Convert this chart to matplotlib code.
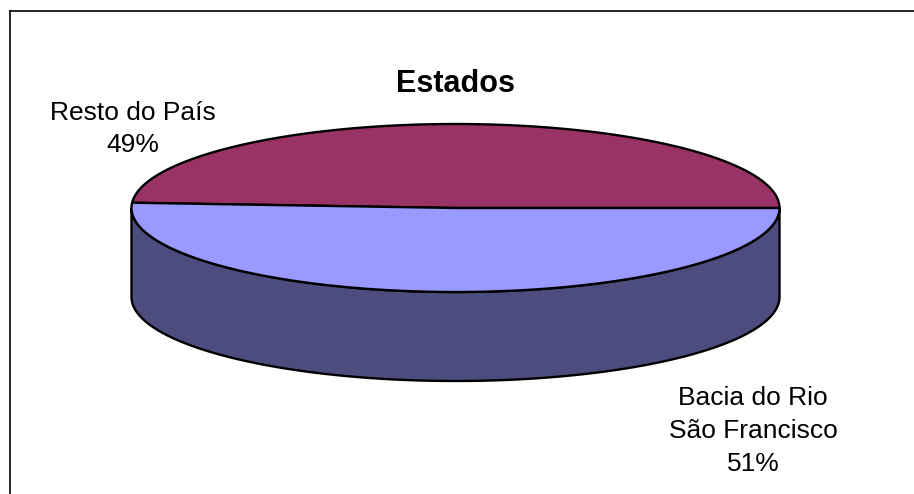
import matplotlib
matplotlib.use("Agg")
import matplotlib.pyplot as plt
import numpy as np
from matplotlib.patches import Polygon

# data
labels = ["Resto do País", "Bacia do Rio\nSão Francisco"]
values = [49, 51]
top_colors = ["#993366", "#9999FF"]
side_colors = ["#5C1F3D", "#4C4C7F"]
title = "Estados"

plt.rcParams['font.family'] = ['Liberation Sans', 'DejaVu Sans']

fig = plt.figure(figsize=(9.14, 4.94), dpi=100)
ax = fig.add_axes([0, 0, 1, 1])
ax.set_xlim(0, 914)
ax.set_ylim(494, 0)
ax.axis("off")

# frame (only top/left visible in the crop)
ax.plot([10, 914], [11, 11], color="black", lw=1.2)
ax.plot([10, 10], [11, 494], color="black", lw=1.2)

# pie geometry (pixels)
cx, cy = 455.5, 208
rx, ry = 324, 84
depth = 89


def pt(deg, yoff=0):
    t = np.radians(deg)
    return cx + rx * np.cos(t), cy - ry * np.sin(t) + yoff


fracs = np.array(values) / sum(values)
angles = np.concatenate([[0], np.cumsum(fracs) * 360])

# side wall: front half of the rim (180..360 deg)
for i in range(len(values)):
    a0, a1 = max(angles[i], 180), min(angles[i + 1], 360)
    if a1 <= a0:
        continue
    ts = np.linspace(a0, a1, 200)
    upper = [pt(t) for t in ts]
    lower = [pt(t, depth) for t in ts[::-1]]
    ax.add_patch(Polygon(upper + lower, closed=True, facecolor=side_colors[i],
                         edgecolor="black", lw=1.7, joinstyle="round"))

# top face wedges
for i in range(len(values)):
    ts = np.linspace(angles[i], angles[i + 1], 300)
    pts = [(cx, cy)] + [pt(t) for t in ts]
    ax.add_patch(Polygon(pts, closed=True, facecolor=top_colors[i],
                         edgecolor="black", lw=1.7, joinstyle="round"))

# labels
fs = 19
ax.text(133, 129, f"{labels[0]}\n{values[0]}%", ha="center", va="center",
        fontsize=fs, linespacing=1.45)
ax.text(753, 431, f"{labels[1]}\n{values[1]}%", ha="center", va="center",
        fontsize=fs, linespacing=1.45)

ax.text(456, 84, title, ha="center", va="center", fontsize=22, fontweight="bold")

fig.savefig("out.png", dpi=100)
